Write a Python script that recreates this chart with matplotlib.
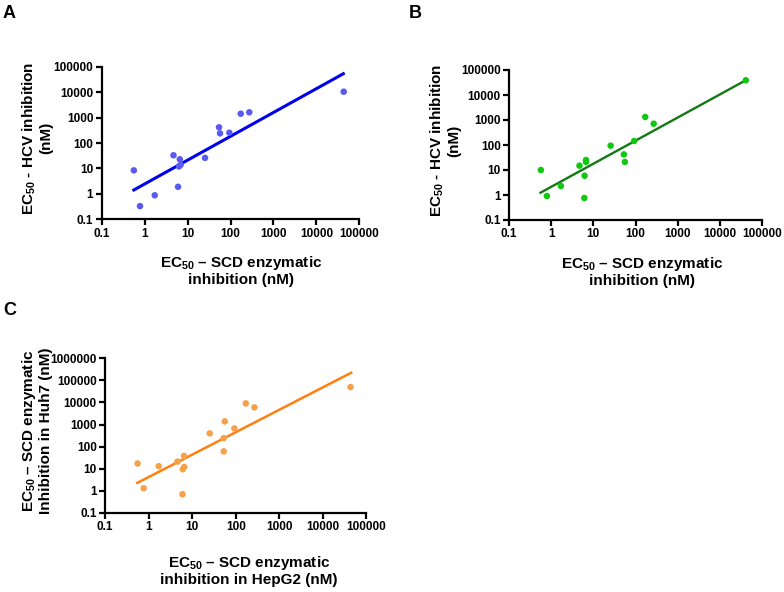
import numpy as np
import matplotlib
matplotlib.use('Agg')
import matplotlib.pyplot as plt

plt.rcParams['font.family'] = ['Liberation Sans', 'DejaVu Sans']
plt.rcParams['font.weight'] = 'bold'
plt.rcParams['mathtext.fontset'] = 'custom'
plt.rcParams['mathtext.rm'] = 'Liberation Sans:bold'
plt.rcParams['mathtext.it'] = 'Liberation Sans:bold'
plt.rcParams['mathtext.bf'] = 'Liberation Sans:bold'
plt.rcParams['mathtext.default'] = 'rm'

# panel A: HCV inhibition vs SCD enzymatic inhibition
xa = [0.56, 0.78, 1.72, 4.7, 6.6, 6.3, 6.9, 6.0, 25.5, 54, 57, 94, 173, 274, 43300]
ya = [8.4, 0.33, 0.88, 33, 23, 12, 14, 1.9, 26, 414, 240, 254, 1420, 1610, 10400]
fit_xa = [0.56, 42500]
fit_ya = [1.42, 53000]

# panel B
xb = [0.57, 0.79, 1.7, 4.7, 6.7, 6.7, 6.2, 6.1, 25.7, 53, 56, 93, 170, 270, 41300]
yb = [10, 0.91, 2.3, 14.9, 25, 21, 5.9, 0.76, 94, 42, 21, 145, 1320, 711, 38700]
fit_xb = [0.56, 41000]
fit_yb = [1.24, 38700]

# panel C: Huh7 vs HepG2
xc = [0.56, 0.77, 1.71, 4.6, 6.5, 6.6, 6.1, 6.0, 25.3, 53, 56, 53, 93, 170, 268, 43000]
yc = [17.3, 1.31, 13, 21, 38, 12, 9.5, 0.7, 398, 243, 1390, 61, 668, 9100, 6000, 50000]
fit_xc = [0.55, 44600]
fit_yc = [2.28, 222000]

x_ticks = [0.1, 1, 10, 100, 1000, 10000, 100000]
x_ticklabels = ['0.1', '1', '10', '100', '1000', '10000', '100000']
y_ticks_c = [0.1, 1, 10, 100, 1000, 10000, 100000, 1000000]
y_ticklabels_c = ['0.1', '1', '10', '100', '1000', '10000', '100000', '1000000']

W, H = 784, 592
fig = plt.figure(figsize=(W/100, H/100), dpi=100)

def px_axes(l, r, t, b):
    return fig.add_axes([l/W, 1-b/H, (r-l)/W, (b-t)/H])

def style(ax, yt, ytl, ymax):
    ax.set_xscale('log')
    ax.set_yscale('log')
    ax.set_xlim(0.1, 100000)
    ax.set_ylim(0.1, ymax)
    ax.set_xticks(x_ticks)
    ax.set_xticklabels(x_ticklabels)
    ax.set_yticks(yt)
    ax.set_yticklabels(ytl)
    ax.minorticks_off()
    for s in ['top', 'right']:
        ax.spines[s].set_visible(False)
    for s in ['left', 'bottom']:
        ax.spines[s].set_linewidth(1.6)
    ax.tick_params(length=4, width=1.6, labelsize=8.5, pad=2)
    for lab in ax.get_xticklabels() + ax.get_yticklabels():
        lab.set_fontweight('bold')

axA = px_axes(101.7, 359.3, 66.7, 219.3)
style(axA, x_ticks, x_ticklabels, 100000)
axA.scatter(xa, ya, s=22, color='#5a5af2', edgecolors='none', zorder=3, clip_on=False)
axA.plot(fit_xa, fit_ya, color='#0000ee', lw=2.2, zorder=2)
axA.set_xlabel('EC$_{50}$ – SCD enzymatic\ninhibition (nM)', fontsize=11, fontweight='bold', linespacing=1.1)
axA.set_ylabel('EC$_{50}$ - HCV inhibition\n(nM)', fontsize=11, fontweight='bold', linespacing=1.1)
axA.xaxis.set_label_coords(0.541, -0.23)
axA.yaxis.set_label_coords(-0.19, 0.533)

axB = px_axes(509, 762, 70, 220)
style(axB, x_ticks, x_ticklabels, 100000)
axB.scatter(xb, yb, s=22, color='#11c811', edgecolors='none', zorder=3, clip_on=False)
axB.plot(fit_xb, fit_yb, color='#127a12', lw=1.7, zorder=2)
axB.set_xlabel('EC$_{50}$ – SCD enzymatic\ninhibition (nM)', fontsize=11, fontweight='bold', linespacing=1.1)
axB.set_ylabel('EC$_{50}$ - HCV inhibition\n(nM)', fontsize=11, fontweight='bold', linespacing=1.1)
axB.xaxis.set_label_coords(0.527, -0.235)
axB.yaxis.set_label_coords(-0.19, 0.53)

axC = px_axes(105, 366.5, 358.3, 512.9)
style(axC, y_ticks_c, y_ticklabels_c, 1000000)
axC.scatter(xc, yc, s=22, color='#f7a04a', edgecolors='none', zorder=3, clip_on=False)
axC.plot(fit_xc, fit_yc, color='#ff8010', lw=1.8, zorder=2)
axC.set_xlabel('EC$_{50}$ – SCD enzymatic\ninhibition in HepG2 (nM)', fontsize=11, fontweight='bold', linespacing=1.1)
axC.set_ylabel('EC$_{50}$ – SCD enzymatic\nInhibition in Huh7 (nM)', fontsize=11, fontweight='bold', linespacing=1.1)
axC.xaxis.set_label_coords(0.551, -0.265)
axC.yaxis.set_label_coords(-0.198, 0.53)

fig.text(3/W, 1-5/H, 'A', fontsize=13, fontweight='bold', va='top', ha='left')
fig.text(409/W, 1-5/H, 'B', fontsize=13, fontweight='bold', va='top', ha='left')
fig.text(3/W, 1-302/H, 'C', fontsize=13, fontweight='bold', va='top', ha='left')

plt.savefig('out.png', dpi=100)
